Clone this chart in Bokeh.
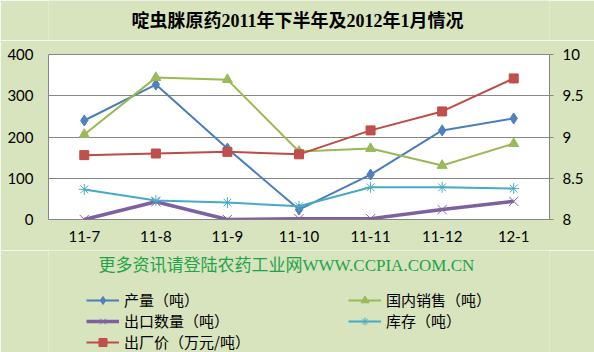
from bokeh.plotting import figure
from bokeh.models import (Range1d, FactorRange, LinearAxis, Legend, LegendItem,
                          FixedTicker, NumeralTickFormatter, Label)
from bokeh.layouts import column
from bokeh.embed import file_html
from bokeh.resources import INLINE

months = ["11-7", "11-8", "11-9", "11-10", "11-11", "11-12", "12-1"]
output_t = [240, 327, 172, 24, 109, 216, 245]       # 产量（吨）
domestic_t = [206, 344, 339, 165, 172, 131, 184]    # 国内销售（吨）
export_t = [0, 43, 0, 2, 2, 24, 44]                 # 出口数量（吨）
stock_t = [73, 46, 41, 32, 78, 78, 75]              # 库存（吨）
price_wy = [8.78, 8.80, 8.82, 8.79, 9.08, 9.31, 9.71]  # 出厂价（万元/吨）
left_ticks = [0, 100, 200, 300, 400]
right_ticks = [8, 8.5, 9, 9.5, 10]

BG = "#D7E4BD"
GRID = "#868686"
TICK_FONT = "Lato"
CJK = "Noto Sans CJK SC"
SERIF_CJK = "Liberation Serif, Noto Sans CJK SC"

styles = {
    "out": dict(color="#4A7EBB", fill="#4F81BD", marker="diamond", size=11, lw=2),
    "dom": dict(color="#98B954", fill="#9BBB59", marker="triangle", size=10, lw=2),
    "exp": dict(color="#7D60A0", fill="#8064A2", marker="x", size=13, lw=3.5),
    "stk": dict(color="#46AAC5", fill="#4BACC6", marker="asterisk", size=11, lw=2),
    "prc": dict(color="#BE4B48", fill="#C0504D", marker="square", size=9, lw=2),
}


def series(fig, key, xs, ys, **kw):
    s = styles[key]
    ln = fig.line(xs, ys, line_color=s["color"], line_width=s["lw"], **kw)
    if s["marker"] in ("x", "asterisk"):
        mk = fig.scatter(xs, ys, marker=s["marker"], size=s["size"],
                         line_color=s["fill"], line_width=1, **kw)
    else:
        mk = fig.scatter(xs, ys, marker=s["marker"], size=s["size"],
                         fill_color=s["fill"], line_color=s["color"], **kw)
    return [ln, mk]


def blank(height):
    f = figure(width=594, height=height, x_range=Range1d(0, 1), y_range=Range1d(0, 1),
               output_backend="svg", toolbar_location=None,
               x_axis_type=None, y_axis_type=None, min_border=0)
    f.background_fill_color = BG
    f.border_fill_color = BG
    f.outline_line_color = None
    f.grid.grid_line_color = None
    return f


# ---- title strip
t = blank(40)
t.add_layout(Label(x=249, y=20, x_units="screen", y_units="screen",
                   text="啶虫脒原药2011年下半年及2012年1月情况",
                   text_font=SERIF_CJK, text_font_style="bold", text_font_size="18px",
                   text_color="black", text_align="center", text_baseline="middle"))

# ---- main chart
p = figure(width=594, height=210, x_range=FactorRange(*months),
           y_range=Range1d(0, 400), output_backend="svg", toolbar_location=None,
           min_border_left=48, min_border_right=45, min_border_top=14,
           min_border_bottom=31)
p.background_fill_color = "white"
p.border_fill_color = BG
p.outline_line_color = GRID
p.outline_line_width = 1
p.extra_y_ranges = {"price": Range1d(8, 10)}

p.xaxis.axis_line_color = None
p.xaxis.major_tick_line_color = None
p.xaxis.minor_tick_line_color = None
p.xaxis.major_label_standoff = 5
p.xaxis.major_label_text_font = TICK_FONT
p.xaxis.major_label_text_font_size = "15px"
p.xaxis.major_label_text_color = "black"

p.yaxis.ticker = FixedTicker(ticks=left_ticks)
p.yaxis.axis_line_color = None
p.yaxis.major_tick_line_color = None
p.yaxis.minor_tick_line_color = None
p.yaxis.major_label_standoff = 9
p.yaxis.major_label_text_font = TICK_FONT
p.yaxis.major_label_text_font_size = "15px"
p.yaxis.major_label_text_color = "black"

raxis = LinearAxis(y_range_name="price", ticker=FixedTicker(ticks=right_ticks),
                   formatter=NumeralTickFormatter(format="0.[0]"))
raxis.axis_line_color = None
raxis.major_tick_line_color = GRID
raxis.major_tick_out = 4
raxis.major_tick_in = 0
raxis.minor_tick_line_color = None
raxis.major_label_standoff = 9
raxis.major_label_text_font = TICK_FONT
raxis.major_label_text_font_size = "15px"
raxis.major_label_text_color = "black"
p.add_layout(raxis, "right")

p.xgrid.grid_line_color = None
p.ygrid.grid_line_color = GRID
p.ygrid.grid_line_width = 1

series(p, "out", months, output_t)
series(p, "dom", months, domestic_t)
series(p, "exp", months, export_t)
series(p, "stk", months, stock_t)
series(p, "prc", months, price_wy, y_range_name="price")

# ---- lower strip: watermark + legend (legend renderers use the same data,
#      kept outside this strip's visible range)
q = figure(width=594, height=102, x_range=FactorRange(*months), y_range=Range1d(-2, -1),
           output_backend="svg", toolbar_location=None,
           x_axis_type=None, y_axis_type=None, min_border=0)
q.background_fill_color = BG
q.border_fill_color = BG
q.outline_line_color = None
q.grid.grid_line_color = None

q.add_layout(Label(x=50, y=87, x_units="screen", y_units="screen",
                   text="更多资讯请登陆农药工业网WWW.CCPIA.COM.CN",
                   text_font=SERIF_CJK, text_font_size="17px",
                   text_color="#1FA34A", text_baseline="middle", text_align="left"))

r_out = series(q, "out", months, output_t)
r_dom = series(q, "dom", months, domestic_t)
r_exp = series(q, "exp", months, export_t)
r_stk = series(q, "stk", months, stock_t)
r_prc = series(q, "prc", months, price_wy)

legend = Legend(items=[
    LegendItem(label="产量（吨）", renderers=r_out),
    LegendItem(label="出口数量（吨）", renderers=r_exp),
    LegendItem(label="出厂价（万元/吨）", renderers=r_prc),
    LegendItem(label="国内销售（吨）", renderers=r_dom),
    LegendItem(label="库存（吨）", renderers=r_stk),
], location=(38, 0), ncols=2)
legend.background_fill_alpha = 0
legend.border_line_color = None
legend.padding = 0
legend.margin = 0
legend.spacing = 0
legend.glyph_width = 33
legend.glyph_height = 20
legend.label_height = 20
legend.label_width = 224
legend.label_standoff = 5
legend.label_text_font = CJK
legend.label_text_font_size = "15px"
legend.label_text_color = "black"
q.add_layout(legend, "center")

layout = column(t, p, q, spacing=0)
open("out.html", "w").write(file_html(layout, INLINE))
